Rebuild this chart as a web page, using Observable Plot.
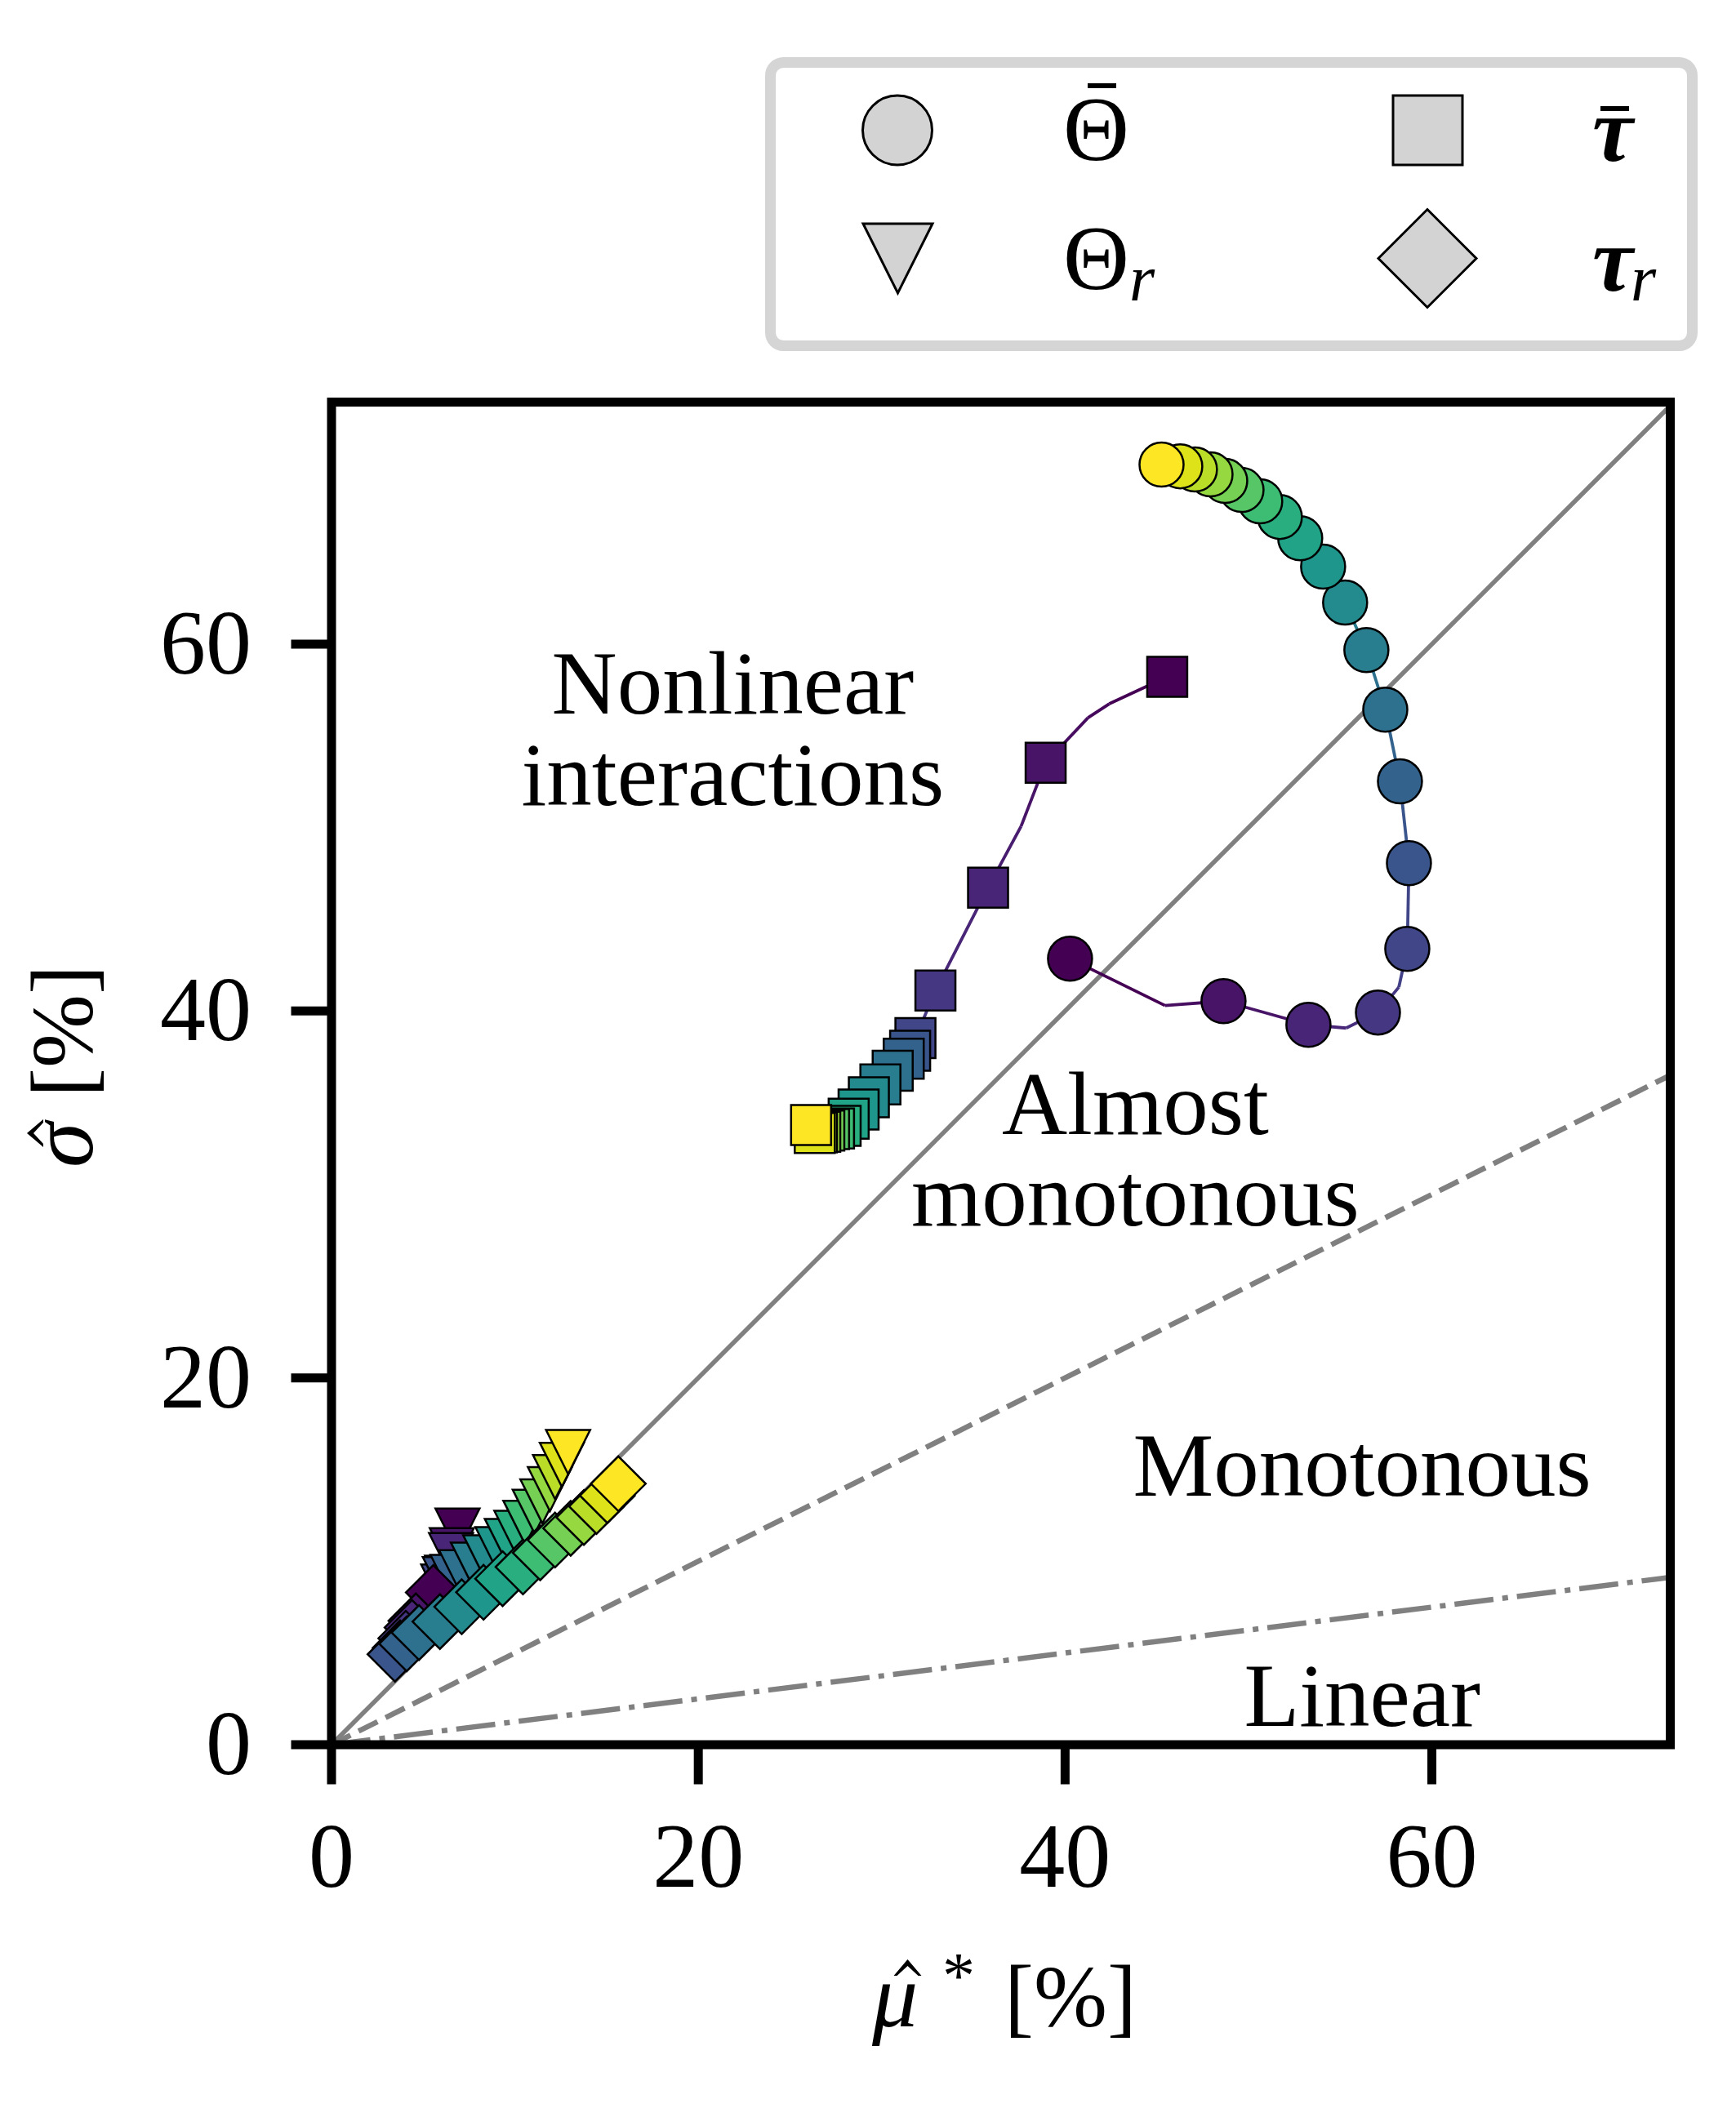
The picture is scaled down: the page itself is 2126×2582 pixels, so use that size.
<!DOCTYPE html>
<html>
<head>
<meta charset="utf-8">
<script src="https://cdn.jsdelivr.net/npm/d3@7"></script>
<script src="https://cdn.jsdelivr.net/npm/@observablehq/plot@0.6"></script>
<style>
  body { margin: 0; background: #fff; }
  #chart { width: 2126px; height: 2582px; }
</style>
</head>
<body>
<div id="chart"></div>
<script>
// ---------------- data ----------------
const steps = d3.range(20);                 // shared step index -> viridis colour

// Θ̄ (circles, with connecting line)
const thetaBarX = [40.27,48.64,53.27,57.06,58.66,58.75,58.26,57.46,56.43,55.27,54.07,52.82,51.71,50.64,49.62,48.73,47.93,47.08,46.28,45.26];
const thetaBarY = [42.85,40.54,39.25,39.92,43.39,48.06,52.52,56.43,59.68,62.27,64.23,65.78,66.94,67.79,68.41,68.90,69.26,69.53,69.70,69.79];
// visible bends of the Θ̄ line between markers
const thetaBarBendX = [45.45,55.32,58.20];
const thetaBarBendY = [40.30,39.07,41.30];
const thetaBarBendStep = [0.6,2.5,3.6];

// Θ_r (down triangles)
const thetaRX = [6.87,6.56,6.52,6.30,6.09,6.18,6.60,7.07,7.71,8.38,9.05,9.56,10.08,10.57,11.08,11.50,11.91,12.19,12.56,12.90];
const thetaRY = [11.67,10.60,10.34,9.10,8.62,9.03,9.15,9.40,9.82,10.22,10.66,11.11,11.55,12.10,12.70,13.26,13.93,14.59,15.26,15.96];

// τ̄ (squares, with connecting line)
const tauBarX = [45.57,38.94,35.80,32.93,31.84,31.55,31.20,30.60,29.93,29.30,28.74,28.20,27.76,27.40,27.13,26.87,26.65,26.47,26.35,26.15];
const tauBarY = [58.22,53.54,46.73,41.12,38.53,37.83,37.40,36.75,36.00,35.30,34.63,34.13,33.74,33.60,33.56,33.48,33.42,33.38,33.35,33.78];
const tauBarBendX = [42.41,41.25,37.60];
const tauBarBendY = [56.75,55.99,50.07];
const tauBarBendStep = [0.4,0.6,1.5];

// τ_r (diamonds)
const tauRX = [5.55,4.60,4.39,4.05,3.74,3.46,4.10,4.77,5.91,7.10,8.29,9.33,10.44,11.38,12.19,13.04,13.76,14.45,15.04,15.64];
const tauRY = [8.30,6.75,6.39,5.80,5.28,4.93,5.50,6.11,6.71,7.52,8.31,9.05,9.69,10.46,11.16,11.80,12.39,12.99,13.58,14.23];

// reference lines σ = k·μ
const refSlopes = [1, 0.5, 0.125];

// region annotations
const annoText = ["Nonlinear\ninteractions", "Almost\nmonotonous", "Monotonous", "Linear"];
const annoX = [21.88, 43.83, 56.2, 56.2];
const annoY = [55.34, 32.41, 15.18, 2.63];

const tickValues = [0, 20, 40, 60];
const xMax = 73.0, yMax = 73.2;

// ---------------- derived tables ----------------
const pts = (xs, ys) => xs.map((x, i) => ({x, y: ys[i], step: steps[i]}));
const pathPts = (xs, ys, bx, by, bs) =>
  pts(xs, ys).concat(bx.map((x, i) => ({x, y: by[i], step: bs[i]}))).sort((a, b) => a.step - b.step);
const segs = p => p.slice(1).map((d, i) => ({x1: p[i].x, y1: p[i].y, x2: d.x, y2: d.y, step: p[i].step}));

const thetaBar = pts(thetaBarX, thetaBarY);
const thetaR = pts(thetaRX, thetaRY);
const tauBar = pts(tauBarX, tauBarY);
const tauR = pts(tauRX, tauRY);
const thetaBarSegs = segs(pathPts(thetaBarX, thetaBarY, thetaBarBendX, thetaBarBendY, thetaBarBendStep));
const tauBarSegs = segs(pathPts(tauBarX, tauBarY, tauBarBendX, tauBarBendY, tauBarBendStep));
const refs = refSlopes.map(k => ({k}));
const annos = annoText.map((t, i) => ({text: t, x: annoX[i], y: annoY[i]}));

// matplotlib-like marker shapes (size = π r²)
const rOf = size => Math.sqrt(size / Math.PI);
const symTriDown = {draw(ctx, size) { const r = rOf(size); ctx.moveTo(-r, -r); ctx.lineTo(r, -r); ctx.lineTo(0, r); ctx.closePath(); }};
const symDiamond = {draw(ctx, size) { const r = rOf(size); ctx.moveTo(0, -r); ctx.lineTo(r, 0); ctx.lineTo(0, r); ctx.lineTo(-r, 0); ctx.closePath(); }};
const symSquare = {draw(ctx, size) { const r = rOf(size); ctx.moveTo(-r, -r); ctx.lineTo(r, -r); ctx.lineTo(r, r); ctx.lineTo(-r, r); ctx.closePath(); }};

const FONT = "Liberation Serif, Times New Roman, serif";
const W = 2126, H = 2582;

const refLine = (k, dash, sw) => Plot.link(refs.filter(d => d.k === k), {
  x1: () => 0, y1: () => 0, x2: () => xMax, y2: d => xMax * d.k,
  stroke: "#808080", strokeWidth: sw, strokeDasharray: dash, clip: true
});

const plot = Plot.plot({
  width: W, height: H,
  marginLeft: 405.5, marginRight: 81, marginTop: 492, marginBottom: 445.5,
  x: {domain: [0, xMax]},
  y: {domain: [0, yMax]},
  color: {type: "linear", scheme: "viridis", domain: [0, 19]},
  style: {fontFamily: FONT, background: "white", color: "black"},
  marks: [
    refLine(1, null, 5.5),
    refLine(0.5, "26,11", 6.5),
    refLine(0.125, "48,11,7,11", 6.5),
    Plot.link(thetaBarSegs, {x1: "x1", y1: "y1", x2: "x2", y2: "y2", stroke: "step", strokeWidth: 3.8}),
    Plot.dot(thetaBar, {x: "x", y: "y", r: 27, fill: "step", stroke: "black", strokeWidth: 2.5}),
    Plot.dot(thetaR, {x: "x", y: "y", symbol: symTriDown, r: 27, fill: "step", stroke: "black", strokeWidth: 2.5}),
    Plot.link(tauBarSegs, {x1: "x1", y1: "y1", x2: "x2", y2: "y2", stroke: "step", strokeWidth: 3.8}),
    Plot.dot(tauBar, {x: "x", y: "y", symbol: symSquare, r: 24.5, fill: "step", stroke: "black", strokeWidth: 2.5}),
    Plot.dot(tauR, {x: "x", y: "y", symbol: symDiamond, r: 33.5, fill: "step", stroke: "black", strokeWidth: 2.5}),
    Plot.text(annos, {x: "x", y: "y", text: "text", fontSize: 111, lineHeight: 1.01, textAnchor: "middle", fill: "black"}),
    Plot.frame({stroke: "black", strokeWidth: 11}),
    Plot.axisX({ticks: tickValues, tickSize: 49, tickPadding: 45, strokeWidth: 11, fontSize: 112, label: null, tickFormat: d => String(d)}),
    Plot.axisY({ticks: tickValues, tickSize: 49, tickPadding: 49, strokeWidth: 11, fontSize: 112, label: null, tickFormat: d => String(d)})
  ]
});
document.getElementById("chart").appendChild(plot);

// ---------------- axis titles and legend (real text) ----------------
const svg = d3.select(plot);
const txt = (g, x, y, s, o = {}) => g.append("text")
  .attr("x", x).attr("y", y)
  .attr("font-family", FONT)
  .attr("font-size", o.size || 112)
  .attr("font-style", o.italic ? "italic" : "normal")
  .attr("font-weight", o.bold ? "bold" : "normal")
  .attr("text-anchor", o.anchor || "start")
  .attr("fill", "black")
  .text(s);
// circumflex accent drawn as a small wedge centred at (cx, baseline + dy)
const hat = (g, cx, top) => g.append("path")
  .attr("d", `M${cx - 17},${top + 20}L${cx},${top}L${cx + 17},${top + 20}L${cx + 13},${top + 20}L${cx},${top + 8}L${cx - 13},${top + 20}Z`)
  .attr("fill", "black");

// x label  μ̂* [%]
const gx = svg.append("g");
txt(gx, 1068, 2482, "μ", {italic: true});
hat(gx, 1111.5, 2400);
txt(gx, 1154, 2447, "*", {size: 80});
txt(gx, 1311, 2482, "[%]", {size: 108, anchor: "middle"});

// y label  σ̂ [%]  (rotated; local baseline at y = 0)
const gy = svg.append("g").attr("transform", "translate(113,0) rotate(-90)");
txt(gy, -1430, 0, "σ", {italic: true});
hat(gy, -1388, -80);
txt(gy, -1263, 0, "[%]", {size: 108, anchor: "middle"});

// legend
const lg = svg.append("g");
lg.append("rect").attr("x", 943.5).attr("y", 76.5).attr("width", 1129).attr("height", 347)
  .attr("rx", 16).attr("fill", "white").attr("stroke", "#d5d5d5").attr("stroke-width", 13);
const mk = sel => sel.attr("fill", "#d3d3d3").attr("stroke", "black").attr("stroke-width", 3);
mk(lg.append("circle").attr("cx", 1099).attr("cy", 159.5).attr("r", 42.5));
mk(lg.append("path").attr("d", "M1057,274L1142,274L1099.5,359Z"));
mk(lg.append("rect").attr("x", 1706).attr("y", 117).attr("width", 85).attr("height", 85));
mk(lg.append("path").attr("d", "M1748,256.5L1808,316.5L1748,376.5L1688,316.5Z"));

txt(lg, 1302, 196, "Θ");
lg.append("rect").attr("x", 1332).attr("y", 102).attr("width", 35).attr("height", 6).attr("fill", "black");
txt(lg, 1302, 354, "Θ");
txt(lg, 1383, 368, "r", {italic: true, size: 80});

txt(lg, 1950, 197, "τ", {italic: true, bold: true});
lg.append("rect").attr("x", 1960).attr("y", 130).attr("width", 35).attr("height", 6).attr("fill", "black");
txt(lg, 1950, 356, "τ", {italic: true, bold: true});
txt(lg, 1997, 368, "r", {italic: true, size: 80});
</script>
</body>
</html>
